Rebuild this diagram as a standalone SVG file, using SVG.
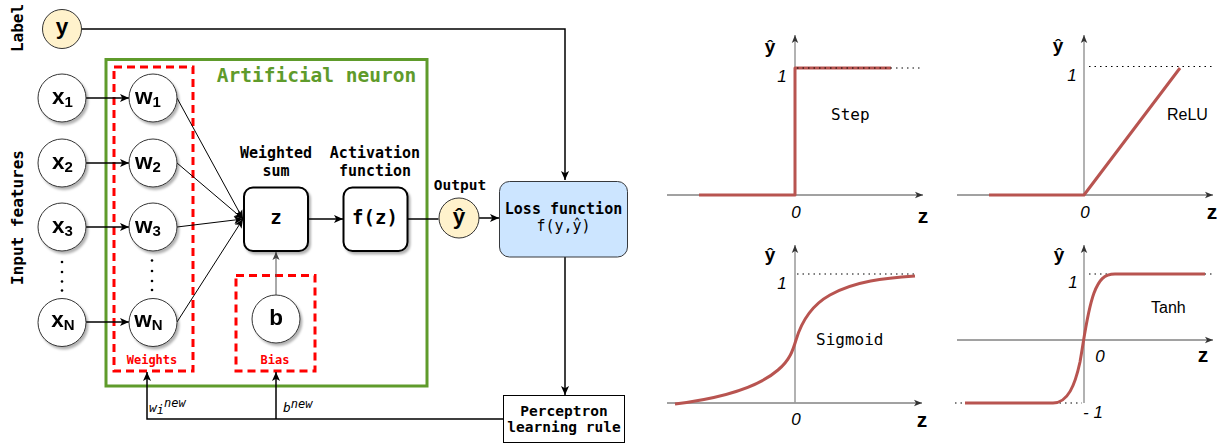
<svg xmlns="http://www.w3.org/2000/svg" width="1221" height="447" viewBox="0 0 1221 447">
  <defs>
    <marker id="arr" viewBox="0 0 10 10" refX="10" refY="5" markerWidth="9" markerHeight="9" markerUnits="userSpaceOnUse" orient="auto">
      <path d="M0,0.5 L10,5 L0,9.5 L2.5,5 Z" fill="#000"/>
    </marker>
    <marker id="arrg" viewBox="0 0 10 10" refX="10" refY="5" markerWidth="8" markerHeight="8" markerUnits="userSpaceOnUse" orient="auto">
      <path d="M0,0.5 L10,5 L0,9.5 L2.5,5 Z" fill="#444"/>
    </marker>
    <marker id="ax" viewBox="0 0 10 10" refX="10" refY="5" markerWidth="8" markerHeight="8" markerUnits="userSpaceOnUse" orient="auto">
      <path d="M0,1 L10,5 L0,9 L2.5,5 Z" fill="#333"/>
    </marker>
    <filter id="shadow" x="-30%" y="-30%" width="170%" height="170%">
      <feDropShadow dx="2" dy="2.5" stdDeviation="1.2" flood-color="#000" flood-opacity="0.3"/>
    </filter>
  </defs>
  <style>
    .circ { fill:#fff; stroke:#333; stroke-width:1; }
    .yel { fill:#fff2cc; stroke:#333; stroke-width:1; }
    .box { fill:#fff; stroke:#000; stroke-width:2; }
    .lbl { font-family:"Liberation Sans", Arial, sans-serif; font-weight:bold; font-size:22.5px; fill:#000; }
    .sub { font-size:15px; }
    .mb { font-family:"DejaVu Sans Mono", "Liberation Mono", monospace; font-weight:bold; fill:#000; }
    .mono { font-family:"DejaVu Sans Mono", "Liberation Mono", monospace; fill:#000; }
    .side { font-family:"DejaVu Sans Mono", "Liberation Mono", monospace; font-weight:bold; font-size:16px; }
    .red { fill:#ff0000; font-size:12px; }
    .dash { fill:none; stroke:#ff0000; stroke-width:3; stroke-dasharray:8 5; }
    .edge { fill:none; stroke:#000; stroke-width:1.5; }
    .thin { fill:none; stroke:#000; stroke-width:1; }
    .it { font-family:"DejaVu Sans Mono", monospace; font-style:italic; font-size:13px; }
    .xaxis { fill:none; stroke:#444; stroke-width:1; }
    .yaxis { fill:none; stroke:#999; stroke-width:1.5; }
    .curve { fill:none; stroke:#b85450; stroke-width:3; stroke-linejoin:round; }
    .dot { fill:none; stroke:#000; stroke-width:1.2; stroke-dasharray:1.5 4; }
    .num { font-family:"Liberation Sans", Arial, sans-serif; font-style:italic; font-size:17px; text-anchor:middle; }
    .hat { font-family:"Liberation Sans", Arial, sans-serif; font-weight:bold; font-size:19px; text-anchor:middle; }
    .zax { font-family:"Liberation Sans", Arial, sans-serif; font-weight:bold; font-size:21px; text-anchor:middle; }
    .fn { font-family:"DejaVu Sans Mono", monospace; font-size:16px; }
    .fns { font-family:"Liberation Sans", Arial, sans-serif; font-size:16px; }
  </style>

  <!-- side captions -->
  <text class="side" transform="translate(22.5,28) rotate(-90)" text-anchor="middle">Label</text>
  <text class="side" transform="translate(22.5,217.5) rotate(-90)" text-anchor="middle">Input features</text>

  <!-- neuron frame -->
  <g id="neuron">
    <rect x="106" y="59.5" width="321" height="326.5" fill="none" stroke="#5f9b2b" stroke-width="3"/>
    <text x="316.5" y="82" class="mb" font-size="19.5" style="fill:#5f9b2b" text-anchor="middle">Artificial neuron</text>
  </g>
  <g id="weights-group">
    <rect x="114" y="67" width="79" height="304" class="dash"/>
    <text x="152" y="364" class="mb red" text-anchor="middle">Weights</text>
  </g>
  <g id="bias-group">
    <rect x="236" y="275.5" width="79" height="95.5" class="dash"/>
    <text x="275" y="364" class="mb red" text-anchor="middle">Bias</text>
  </g>

  <!-- connectors -->
  <g id="connectors">
    <path class="edge" d="M82,29 H565 V180" marker-end="url(#arr)"/>
    <line class="edge" x1="86" y1="98" x2="129" y2="98" marker-end="url(#arr)"/>
    <line class="edge" x1="86" y1="163" x2="129" y2="163" marker-end="url(#arr)"/>
    <line class="edge" x1="86" y1="227" x2="129" y2="227" marker-end="url(#arr)"/>
    <line class="edge" x1="86" y1="322" x2="129" y2="322" marker-end="url(#arr)"/>
    <line class="thin" x1="177" y1="98" x2="243" y2="219" marker-end="url(#arr)"/>
    <line class="thin" x1="177" y1="163" x2="243" y2="219" marker-end="url(#arr)"/>
    <line class="thin" x1="177" y1="227" x2="243" y2="219" marker-end="url(#arr)"/>
    <line class="thin" x1="177" y1="322" x2="243" y2="219" marker-end="url(#arr)"/>
    <line x1="276" y1="295" x2="276" y2="252" fill="none" stroke="#555" stroke-width="1" marker-end="url(#arrg)"/>
    <line class="edge" x1="308" y1="219" x2="343" y2="219" marker-end="url(#arr)"/>
    <line class="edge" x1="408" y1="219" x2="438.5" y2="219"/>
    <line class="edge" x1="479" y1="218" x2="499" y2="218" marker-end="url(#arr)"/>
    <line class="edge" x1="565" y1="257" x2="565" y2="395" marker-end="url(#arr)"/>
    <path class="edge" d="M503,419 H147 V372" marker-end="url(#arr)"/>
    <line class="edge" x1="276" y1="419" x2="276" y2="372" marker-end="url(#arr)"/>
    <text x="149" y="411.5" class="it">w<tspan font-size="12" dy="2.5">i</tspan><tspan font-size="12" dy="-7.5">new</tspan></text>
    <text x="283" y="412" class="it">b<tspan font-size="12" dy="-4.5">new</tspan></text>
  </g>

  <!-- nodes -->
  <g id="node-y">
    <circle cx="62" cy="29" r="19.5" class="yel"/>
    <text x="62" y="34" class="lbl" text-anchor="middle">y</text>
  </g>
  <g id="node-x1" filter="url(#shadow)">
    <circle cx="62" cy="98" r="24" class="circ"/>
    <text x="62.5" y="103.5" class="lbl" text-anchor="middle">x<tspan class="sub" dy="3">1</tspan></text>
  </g>
  <g id="node-x2" filter="url(#shadow)">
    <circle cx="62" cy="163" r="24" class="circ"/>
    <text x="62.5" y="168.5" class="lbl" text-anchor="middle">x<tspan class="sub" dy="3">2</tspan></text>
  </g>
  <g id="node-x3" filter="url(#shadow)">
    <circle cx="62" cy="227" r="24" class="circ"/>
    <text x="62.5" y="232.5" class="lbl" text-anchor="middle">x<tspan class="sub" dy="3">3</tspan></text>
  </g>
  <g id="node-xN" filter="url(#shadow)">
    <circle cx="62" cy="322.5" r="24" class="circ"/>
    <text x="63" y="327" class="lbl" text-anchor="middle">x<tspan class="sub" dy="3">N</tspan></text>
  </g>
  <g id="x-dots" fill="#000">
    <circle cx="62" cy="262" r="1.3"/>
    <circle cx="62" cy="272" r="1.3"/>
    <circle cx="62" cy="281.5" r="1.3"/>
    <circle cx="62" cy="290.5" r="1.3"/>
  </g>
  <g id="node-w1" filter="url(#shadow)">
    <circle cx="153" cy="98" r="24" class="circ"/>
    <text x="148" y="103.5" class="lbl" text-anchor="middle">w<tspan class="sub" dy="3">1</tspan></text>
  </g>
  <g id="node-w2" filter="url(#shadow)">
    <circle cx="153" cy="163" r="24" class="circ"/>
    <text x="148" y="168.5" class="lbl" text-anchor="middle">w<tspan class="sub" dy="3">2</tspan></text>
  </g>
  <g id="node-w3" filter="url(#shadow)">
    <circle cx="153" cy="227" r="24" class="circ"/>
    <text x="148" y="232.5" class="lbl" text-anchor="middle">w<tspan class="sub" dy="3">3</tspan></text>
  </g>
  <g id="node-wN" filter="url(#shadow)">
    <circle cx="153" cy="322.5" r="24" class="circ"/>
    <text x="148.5" y="327" class="lbl" text-anchor="middle">w<tspan class="sub" dy="3">N</tspan></text>
  </g>
  <g id="w-dots" fill="#000">
    <circle cx="152" cy="260.5" r="1.3"/>
    <circle cx="152" cy="271" r="1.3"/>
    <circle cx="152" cy="281" r="1.3"/>
    <circle cx="152" cy="290" r="1.3"/>
  </g>
  <g id="node-b" filter="url(#shadow)">
    <circle cx="276" cy="319" r="24" class="circ"/>
    <text x="276" y="324.5" class="lbl" font-size="21" text-anchor="middle">b</text>
  </g>
  <g id="node-z">
    <text x="276" y="158" class="mb" font-size="15" text-anchor="middle">Weighted</text>
    <text x="276" y="176" class="mb" font-size="15" text-anchor="middle">sum</text>
    <rect x="244" y="187.5" width="64" height="63.5" rx="9" class="box" filter="url(#shadow)"/>
    <text x="276" y="223.5" class="mb" font-size="19" text-anchor="middle">z</text>
  </g>
  <g id="node-fz">
    <text x="375" y="158" class="mb" font-size="15" text-anchor="middle">Activation</text>
    <text x="375" y="176" class="mb" font-size="15" text-anchor="middle">function</text>
    <rect x="343.5" y="187.5" width="64" height="63.5" rx="9" class="box" filter="url(#shadow)"/>
    <text x="375" y="223.5" class="mb" font-size="19" text-anchor="middle">f(z)</text>
  </g>
  <g id="node-yhat">
    <text x="460" y="190" class="mb" font-size="14.5" text-anchor="middle">Output</text>
    <circle cx="459" cy="218" r="20" class="yel"/>
    <text x="459" y="224" class="lbl" font-size="20" text-anchor="middle">ŷ</text>
  </g>
  <g id="node-loss">
    <rect x="499.5" y="181.5" width="128" height="75.5" rx="10" fill="#cce5ff" stroke="#36393d" stroke-width="1"/>
    <text x="563.5" y="214" class="mb" font-size="15" text-anchor="middle">Loss function</text>
    <text x="563.5" y="231" class="mono" font-size="15" text-anchor="middle">f(y,ŷ)</text>
  </g>
  <g id="node-rule">
    <rect x="503.5" y="395.5" width="121" height="47" fill="#fff" stroke="#000" stroke-width="1"/>
    <text x="564" y="415.5" class="mb" font-size="14.5" text-anchor="middle">Perceptron</text>
    <text x="564" y="432" class="mb" font-size="14.5" text-anchor="middle">learning rule</text>
  </g>

  <!-- activation function plots -->
  <g id="plot-step">
    <line class="xaxis" x1="667" y1="195" x2="923" y2="195" marker-end="url(#ax)"/>
    <line class="yaxis" x1="795" y1="195" x2="795" y2="35" marker-end="url(#ax)"/>
    <path class="curve" d="M699,195 H795 V68 H891"/>
    <line class="dot" x1="797" y1="68" x2="920" y2="68"/>
    <text x="782" y="82" class="num">1</text>
    <text x="796" y="218" class="num">0</text>
    <text x="770" y="53" class="hat">ŷ</text>
    <text x="923" y="223" class="zax">z</text>
    <text x="831" y="120" class="fn">Step</text>
  </g>
  <g id="plot-relu">
    <line class="xaxis" x1="957" y1="195" x2="1213" y2="195" marker-end="url(#ax)"/>
    <line class="yaxis" x1="1084" y1="195" x2="1084" y2="35" marker-end="url(#ax)"/>
    <path class="curve" d="M989,195 H1084 L1180,68"/>
    <line class="dot" x1="1089" y1="66.5" x2="1213" y2="66.5"/>
    <text x="1072" y="81" class="num">1</text>
    <text x="1085" y="218" class="num">0</text>
    <text x="1058" y="52" class="hat">ŷ</text>
    <text x="1212" y="219" class="zax">z</text>
    <text x="1167" y="120" class="fns">ReLU</text>
  </g>
  <g id="plot-sigmoid">
    <line class="xaxis" x1="667" y1="403" x2="922" y2="403" marker-end="url(#ax)"/>
    <line class="yaxis" x1="795" y1="403" x2="795" y2="245" marker-end="url(#ax)"/>
    <line class="dot" x1="797" y1="274" x2="918" y2="274"/>
    <path class="curve" d="M675,404 C715,399 755,390 778,370 C790,360 793,350 796,340 C802,320 812,305 830,295 C855,281 885,278 915,276"/>
    <text x="782" y="289" class="num">1</text>
    <text x="796" y="425" class="num">0</text>
    <text x="770" y="261" class="hat">ŷ</text>
    <text x="922" y="427" class="zax">z</text>
    <text x="816" y="345" class="fn">Sigmoid</text>
  </g>
  <g id="plot-tanh">
    <line class="xaxis" x1="957" y1="340" x2="1213" y2="340" marker-end="url(#ax)"/>
    <line class="yaxis" x1="1084" y1="403" x2="1084" y2="245" marker-end="url(#ax)"/>
    <line class="dot" x1="1089" y1="274" x2="1213" y2="274"/>
    <line class="dot" x1="955" y1="403" x2="1082" y2="403"/>
    <path class="curve" d="M965,403 H1053 C1068,403 1075,385 1080,362 C1084,340 1087,312 1094,293 C1099,280 1104,274 1115,274 H1205"/>
    <text x="1073" y="288" class="num">1</text>
    <text x="1100" y="362" class="num">0</text>
    <text x="1059" y="261" class="hat">ŷ</text>
    <text x="1203" y="362" class="zax">z</text>
    <text x="1083" y="418" class="num" style="text-anchor:start">- 1</text>
    <text x="1151" y="313" class="fns" font-size="16.5">Tanh</text>
  </g>
</svg>
